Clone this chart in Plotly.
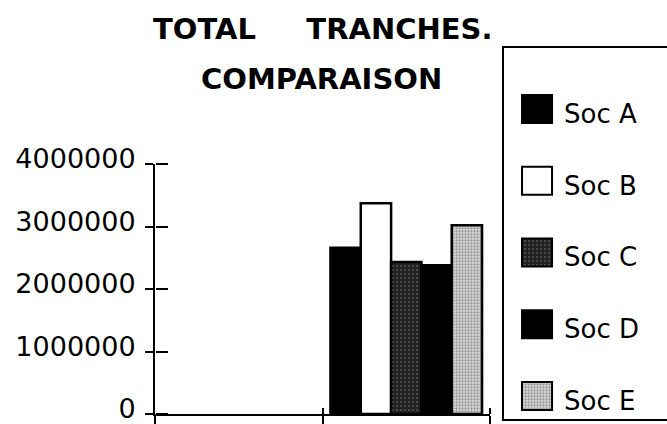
import plotly.graph_objects as go

# Series and their single populated category (the first category is empty)
series_names = ["Soc A", "Soc B", "Soc C", "Soc D", "Soc E"]
category_pos = [0, 1]
soc_a = [None, 2660000]
soc_b = [None, 3370000]
soc_c = [None, 2430000]
soc_d = [None, 2380000]
soc_e = [None, 3020000]
series_values = [soc_a, soc_b, soc_c, soc_d, soc_e]

y_ticks = [0, 1000000, 2000000, 3000000, 4000000]
y_tick_labels = ["0", "1000000", "2000000", "3000000", "4000000"]

W, H = 667, 424
FONT = "DejaVu Sans"


def px_x(p):
    return p / W


def px_y(p):
    return (H - p) / H


# Fill style of each series (solid, hollow, stippled)
styles = [
    dict(color="black"),
    dict(color="white"),
    dict(color="#262626", pattern=dict(shape=".", bgcolor="#222222", fgcolor="#8c8c8c",
                                       size=4, solidity=0.2, fillmode="overlay")),
    dict(color="black"),
    dict(color="#bdbdbd", pattern=dict(shape=".", bgcolor="#dcdcdc", fgcolor="#4a4a4a",
                                       size=3, solidity=0.45, fillmode="overlay")),
]

fig = go.Figure()

for name, vals, st in zip(series_names, series_values, styles):
    fig.add_trace(go.Bar(
        x=category_pos, y=vals, name=name,
        marker=dict(**st, line=dict(color="black", width=2.5)),
        xaxis="x", yaxis="y", showlegend=False,
    ))

# Transparent helper points that bring up the extra axes carrying the
# inner halves of the tick marks
fig.add_trace(go.Scatter(x=[1], y=[0], xaxis="x3", yaxis="y", mode="markers",
                         marker=dict(opacity=0), showlegend=False, hoverinfo="skip"))
fig.add_trace(go.Scatter(x=[1], y=[0], xaxis="x", yaxis="y3", mode="markers",
                         marker=dict(opacity=0), showlegend=False, hoverinfo="skip"))

# Legend key drawn as small horizontal bars in a separate panel
for i, (name, st) in enumerate(zip(series_names, styles)):
    fig.add_trace(go.Bar(
        x=[0.183], y=[i], base=[0.116], orientation="h", width=0.39,
        marker=dict(**st, line=dict(color="black", width=2)),
        xaxis="x2", yaxis="y2", showlegend=False, hoverinfo="skip",
    ))
    fig.add_annotation(
        x=0.36, y=i + 0.07, xref="x2", yref="y2", text=name, showarrow=False,
        xanchor="left", yanchor="middle",
        font=dict(family=FONT, size=26, color="black"),
    )

axis_common = dict(showgrid=False, zeroline=False, fixedrange=True, automargin=False)

fig.update_layout(
    template="none",
    width=W, height=H,
    margin=dict(l=0, r=0, t=0, b=0, autoexpand=False),
    paper_bgcolor="white", plot_bgcolor="rgba(0,0,0,0)",
    barmode="group", bargap=0.095, bargroupgap=0,
    showlegend=False,
    font=dict(family=FONT, color="black"),
    xaxis=dict(
        domain=[px_x(155), px_x(490)], range=[-0.5, 1.5],
        tickvals=[-0.5, 0.5, 1.5], showticklabels=False,
        ticks="outside", ticklen=9, tickwidth=2, tickcolor="black",
        showline=True, linecolor="black", linewidth=2, anchor="y",
        **axis_common,
    ),
    yaxis=dict(
        domain=[px_y(414), px_y(164)], range=[0, 4000000],
        tickvals=y_ticks, ticktext=y_tick_labels,
        ticks="outside", ticklen=8, tickwidth=2, tickcolor="black",
        ticklabelstandoff=4, ticklabelshift=-5, ticklabeloverflow="allow",
        tickfont=dict(family=FONT, size=27, color="black"),
        showline=True, linecolor="black", linewidth=2, anchor="x",
        **axis_common,
    ),
    # upward / rightward halves of the tick marks so they cross the axis lines
    xaxis3=dict(
        overlaying="x", range=[-0.5, 1.5], tickvals=[0.5, 1.5],
        showticklabels=False, ticks="outside", ticklen=6, tickwidth=2,
        tickcolor="black", showline=False, side="top",
        anchor="free", position=px_y(414),
        **axis_common,
    ),
    yaxis3=dict(
        overlaying="y", range=[0, 4000000], tickvals=y_ticks,
        showticklabels=False, ticks="outside", ticklen=12, tickwidth=2,
        tickcolor="black", showline=False, side="right",
        anchor="free", position=px_x(155),
        **axis_common,
    ),
    xaxis2=dict(
        domain=[px_x(503), 1.0], range=[0, 1], visible=False, anchor="y2",
        **axis_common,
    ),
    yaxis2=dict(
        domain=[px_y(420), px_y(47)], range=[4.336, -0.864], visible=False,
        anchor="x2", **axis_common,
    ),
)

# Legend frame (runs off the right edge)
fig.add_shape(
    type="rect", xref="paper", yref="paper",
    x0=px_x(503), x1=1.03, y0=px_y(420), y1=px_y(47),
    line=dict(color="black", width=2), fillcolor="rgba(0,0,0,0)", layer="below",
)

# Two-line title
title_font = dict(family=FONT, size=29, color="black", weight="bold")
fig.add_annotation(
    x=px_x(322), y=px_y(29), xref="paper", yref="paper", showarrow=False,
    text="TOTAL\u00a0\u00a0\u00a0\u00a0 TRANCHES.", xanchor="center", yanchor="middle",
    font=title_font,
)
fig.add_annotation(
    x=px_x(321), y=px_y(79), xref="paper", yref="paper", showarrow=False,
    text="COMPARAISON", xanchor="center", yanchor="middle",
    font=title_font,
)

fig.write_html("out.html", config={"displayModeBar": False})
